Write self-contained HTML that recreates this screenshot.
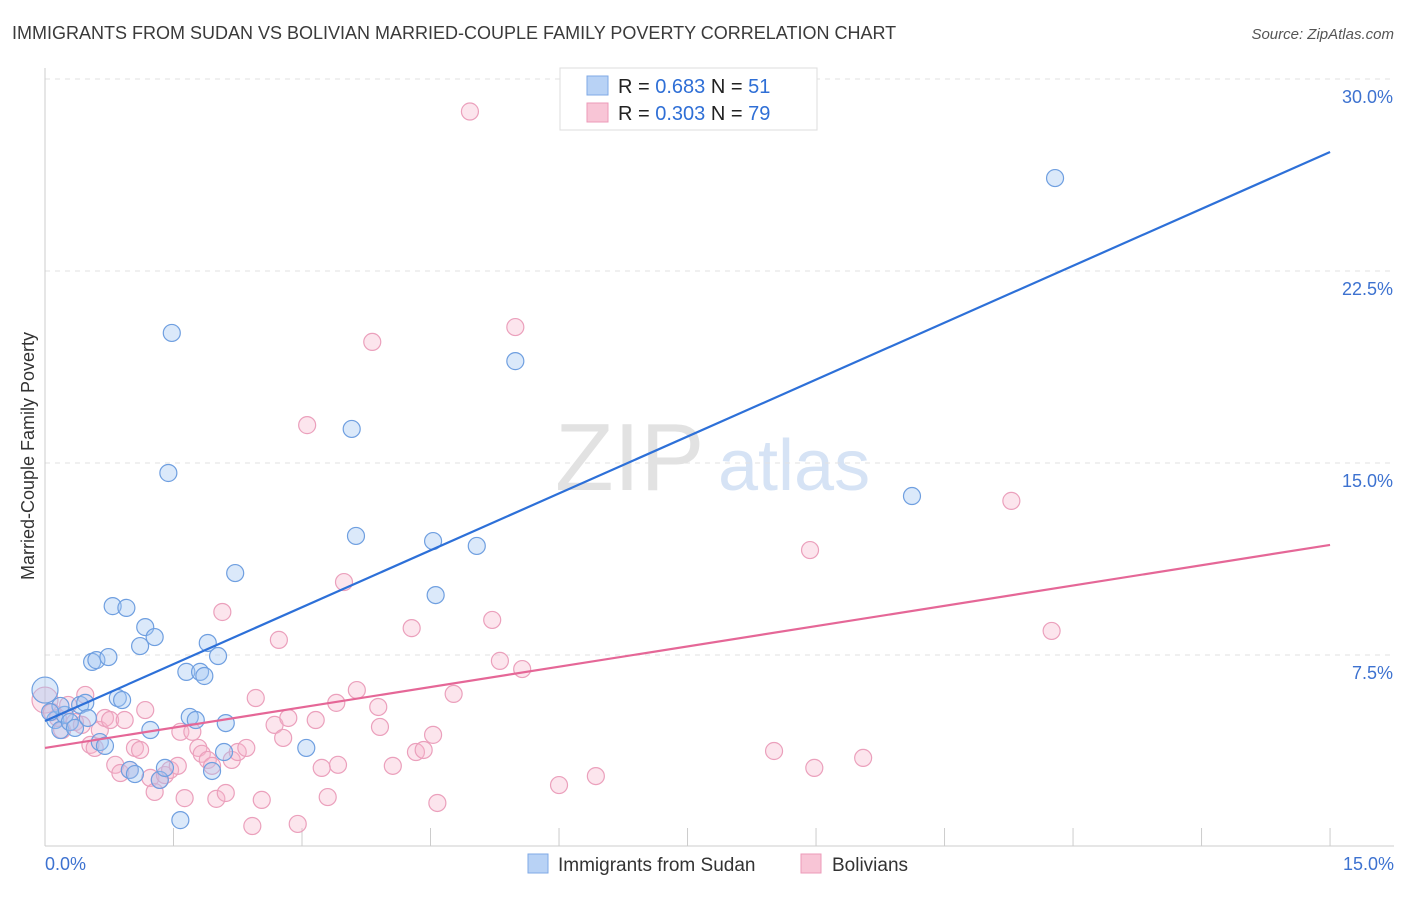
<!DOCTYPE html>
<html><head><meta charset="utf-8"><style>
body{margin:0;background:#fff;font-family:"Liberation Sans",sans-serif;}
svg text{font-family:"Liberation Sans",sans-serif;}
</style></head><body>
<svg id="chart" width="1406" height="892" xmlns="http://www.w3.org/2000/svg">
<text x="12" y="39" font-size="18" fill="#3a3a3a">IMMIGRANTS FROM SUDAN VS BOLIVIAN MARRIED-COUPLE FAMILY POVERTY CORRELATION CHART</text>
<text x="1394" y="39" font-size="15" fill="#555" font-style="italic" text-anchor="end">Source: ZipAtlas.com</text>
<text transform="translate(34,456) rotate(-90)" font-size="18" fill="#333" text-anchor="middle">Married-Couple Family Poverty</text>
<g><text x="555" y="490" font-size="96" fill="#e2e2e2" font-family="Liberation Serif">ZIP</text><text x="718" y="490" font-size="72" fill="#d6e3f5">atlas</text></g>
<g id="grid"></g><g id="axes"></g><g id="pts"></g><g id="lines"></g>
<g>
<rect x="560" y="68" width="257" height="62" fill="#fff" stroke="#ddd"/>
<rect x="587" y="76" width="21" height="19" fill="#b8d2f5" stroke="#7fa9e6"/>
<rect x="587" y="103" width="21" height="19" fill="#f8c5d6" stroke="#ec9ab8"/>
<text x="618" y="93" font-size="20" fill="#222">R = <tspan fill="#2f6fd6">0.683</tspan>   N = <tspan fill="#2f6fd6"> 51</tspan></text>
<text x="618" y="120" font-size="20" fill="#222">R = <tspan fill="#2f6fd6">0.303</tspan>   N = <tspan fill="#2f6fd6">79</tspan></text>
</g>
<g>
<rect x="528" y="854" width="20" height="19" fill="#b8d2f5" stroke="#7fa9e6"/>
<text x="558" y="871" font-size="19" fill="#333">Immigrants from Sudan</text>
<rect x="801" y="854" width="20" height="19" fill="#f8c5d6" stroke="#ec9ab8"/>
<text x="832" y="871" font-size="19" fill="#333">Bolivians</text>
</g>
</svg>
<script>
const sudanX=[0,.12,.18,.23,.29,.35,.41,.47,.50,.55,.60,.64,.70,.74,.79,.85,.90,.95,.99,1.05,1.11,1.17,1.23,1.28,1.34,1.40,1.44,1.48,1.58,1.65,1.69,1.76,1.81,1.86,1.90,1.95,2.02,2.09,2.11,2.22,3.05,3.58,3.63,4.53,4.56,5.04,5.49,10.12,11.79,.18,.06];
const sudanY=[6.13,4.96,4.57,5.16,4.88,4.65,5.55,5.63,5.04,7.23,7.30,4.10,3.95,7.42,9.41,5.82,5.74,9.34,3.01,2.85,7.85,8.59,4.57,8.20,2.62,3.09,14.61,20.08,1.05,6.84,5.08,4.96,6.84,6.68,7.97,2.97,7.46,3.71,4.84,10.70,3.87,16.33,12.15,11.95,9.84,11.76,18.98,13.71,26.13,5.51,5.27];
const bolX=[0,.08,.15,.20,.27,.35,.43,.47,.53,.58,.64,.70,.76,.82,.88,.93,.99,1.05,1.11,1.17,1.23,1.28,1.34,1.40,1.46,1.55,1.58,1.63,1.72,1.79,1.83,1.90,1.95,2.00,2.07,2.11,2.18,2.25,2.35,2.42,2.46,2.53,2.68,2.73,2.78,2.84,2.95,3.06,3.16,3.23,3.30,3.40,3.42,3.49,3.64,3.82,3.89,3.91,4.06,4.28,4.33,4.42,4.53,4.58,4.77,4.96,5.22,5.31,5.49,5.57,6.00,6.43,8.51,8.93,8.98,9.55,11.28,11.75];
const bolY=[5.74,5.27,5.04,4.57,5.55,4.88,4.77,5.94,3.99,3.87,4.57,5.04,4.96,3.21,2.89,4.96,3.01,3.87,3.79,5.35,2.70,2.15,2.62,2.81,3.01,3.17,4.50,1.91,4.50,3.87,3.64,3.40,3.17,1.88,9.18,2.11,3.40,3.71,3.87,0.82,5.82,1.84,4.77,8.09,4.26,5.04,0.90,16.48,4.96,3.09,1.95,5.63,3.21,10.35,6.13,19.73,5.47,4.69,3.17,8.55,3.71,3.79,4.38,1.72,5.98,28.73,8.87,7.27,20.31,6.95,2.42,2.77,3.75,11.60,3.09,3.48,13.52,8.44];
const sudanTrend=[4.92,27.15];
const bolTrend=[3.87,11.8];
const yTicks=[7.5,15,22.5,30];
const yTickLabels=["7.5%","15.0%","22.5%","30.0%"];
const xTicks=[1.5,3,4.5,6,7.5,9,10.5,12,13.5,15];
const NS="http://www.w3.org/2000/svg";
const X=v=>45+v*85.67, Y=v=>847-v*25.6;
function mk(p,tag,a){const e=document.createElementNS(NS,tag);for(const k in a)e.setAttribute(k,a[k]);document.getElementById(p).appendChild(e);return e;}
yTicks.forEach((t,i)=>{
 const g=mk('grid','line',{x1:45,x2:1394,y1:Y(t),y2:Y(t),stroke:'#e2e2e2','stroke-dasharray':'5,5'});
 
 
 const l=mk('axes','text',{x:1393,y:Y(t)+24,'font-size':18,fill:'#3d72d0','text-anchor':'end'});l.textContent=yTickLabels[i];
 
 
});
const ya=mk('axes','line',{x1:45,x2:45,y1:68,y2:846,stroke:'#ccc'});


const xa=mk('axes','line',{x1:45,x2:1394,y1:846,y2:846,stroke:'#ccc'});


xTicks.forEach(t=>{const k=mk('axes','line',{x1:X(t),x2:X(t),y1:828,y2:846,stroke:'#ccc'});
 
 });
[[0,"0.0%",'start',45],[15,"15.0%",'end',1394]].forEach(d=>{const l=mk('axes','text',{x:d[3],y:870,'font-size':18,fill:'#3d72d0','text-anchor':d[2]});l.textContent=d[1];
 
 });
function pts(xs,ys,fill,stroke,name){xs.forEach((x,i)=>{const c=mk('pts','circle',{cx:X(x),cy:Y(ys[i]),r:i===0?13:8.5,fill:fill,stroke:stroke,'stroke-width':1.2});
 
 });}
pts(bolX,bolY,'rgba(246,180,204,0.35)','#eba0bc','bolivians-point');
pts(sudanX,sudanY,'rgba(160,196,242,0.38)','#6f9fe0','sudan-point');
const l1=mk('lines','line',{x1:X(0),y1:Y(sudanTrend[0]),x2:X(15),y2:Y(sudanTrend[1]),stroke:'#2d70d8','stroke-width':2.2});


const l2=mk('lines','line',{x1:X(0),y1:Y(bolTrend[0]),x2:X(15),y2:Y(bolTrend[1]),stroke:'#e56797','stroke-width':2.2});


</script>
</body></html>
